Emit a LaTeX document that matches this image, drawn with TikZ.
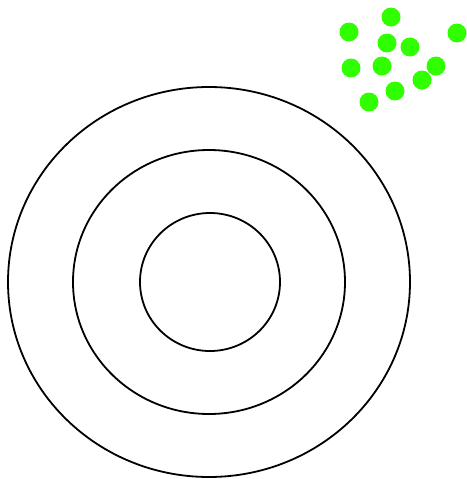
\documentclass[tikz,border=0pt]{standalone}
\usepackage{xcolor}
\usepackage{tikz}
\usetikzlibrary{calc}
\definecolor{dotgreen}{RGB}{48, 255, 0}

\begin{document}
\begin{tikzpicture}[x=1pt, y=-1pt]

% Canvas
\useasboundingbox (0, 0) rectangle (466, 479);

% Rings
\draw[black, line width=1.8pt] (209, 282) ellipse [x radius=201, y radius=195];
\draw[black, line width=1.8pt] (209, 282) ellipse [x radius=136, y radius=132];
\draw[black, line width=1.8pt] (210, 282) ellipse [x radius=70, y radius=69];

% Green dots
\foreach \px/\py in {391/17, 349/32, 457/33, 387/43, 410/47, 351/68,
                     382/66, 436/66, 422/80, 395/91, 369/102}
  \fill[dotgreen] (\px, \py) circle (9.5);

\end{tikzpicture}
\end{document}
